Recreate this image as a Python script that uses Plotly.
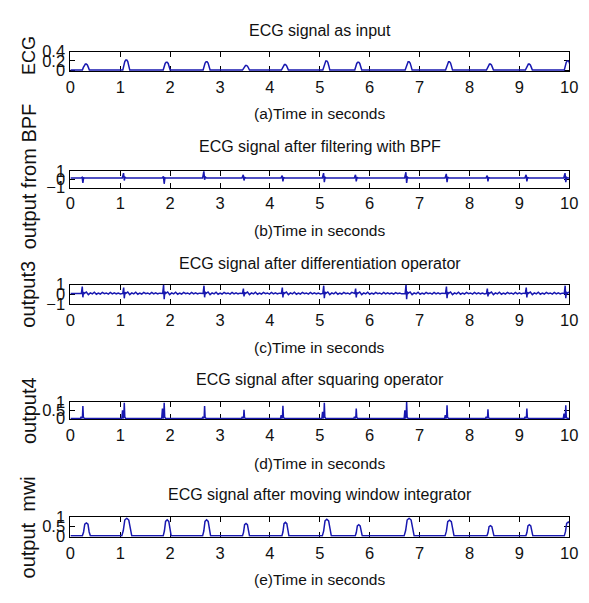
import plotly.graph_objects as go

W, H = 589, 603

# ---------------- data ----------------
x_ticks = [0, 1, 2, 3, 4, 5, 6, 7, 8, 9, 10]

# (a) input ECG : beat times and hump heights
t_in = [0.31, 1.12, 1.93, 2.73, 3.52, 4.30, 5.13, 5.77, 6.78, 7.59, 8.41, 9.19, 9.97]
amp_in = [0.13, 0.22, 0.17, 0.18, 0.10, 0.12, 0.20, 0.17, 0.18, 0.18, 0.13, 0.13, 0.20]
in_offsets = [-0.07, -0.05, -0.03, -0.01, 0.01, 0.03, 0.05, 0.07]
in_shape = [0.0, 0.45, 0.85, 1.0, 1.0, 0.85, 0.45, 0.0]

# (b) band-pass filtered
t_bpf = [0.25, 1.08, 1.88, 2.69, 3.48, 4.26, 5.09, 5.73, 6.74, 7.55, 8.37, 9.15, 9.93]
bpf_base = 0.15
bpf_up = [0.1, 0.6, 0.2, 0.8, 0.4, 0.3, 0.6, 0.4, 0.7, 0.5, 0.3, 0.4, 0.6]
bpf_down = [0.6, 0.3, 0.7, 0.2, 0.3, 0.4, 0.5, 0.4, 0.6, 0.5, 0.4, 0.4, 0.5]
bpf_offsets = [-0.04, -0.015, 0.0, 0.015, 0.04]

# (c) differentiated
t_diff = [0.25, 1.08, 1.88, 2.69, 3.48, 4.26, 5.09, 5.73, 6.74, 7.55, 8.37, 9.15, 9.93]
diff_base = 0.08
diff_up = [0.7, 0.6, 0.9, 0.8, 0.5, 0.6, 0.8, 0.5, 0.9, 0.7, 0.5, 0.6, 0.8]
diff_down = [0.4, 0.5, 0.6, 0.4, 0.3, 0.4, 0.5, 0.4, 0.6, 0.5, 0.3, 0.4, 0.5]
diff_offsets = [-0.03, -0.012, 0.0, 0.012, 0.03]
ripple_offsets = [0.07, 0.11, 0.15, 0.19, 0.23, 0.27, 0.31, 0.35, 0.39, 0.43,
                  0.47, 0.51, 0.55, 0.59, 0.63, 0.67, 0.71, 0.75, 0.79, 0.83, 0.87, 0.91]
ripple_vals = [0.15, -0.12, 0.06, -0.05, 0.12, -0.08, 0.04, -0.06, 0.1, -0.03, 0.05,
               -0.07, 0.11, -0.05, 0.07, -0.04, 0.03, -0.06, 0.08, -0.03, 0.05, -0.04]

# (d) squared
t_sq = [0.25, 1.08, 1.88, 2.69, 3.48, 4.26, 5.09, 5.73, 6.74, 7.55, 8.37, 9.15, 9.93]
sq_amp = [0.75, 0.95, 0.95, 0.75, 0.53, 0.77, 0.95, 0.6, 1.0, 0.8, 0.55, 0.6, 0.8]
sq_amp2 = [0.1, 0.5, 0.6, 0.1, 0.1, 0.2, 0.4, 0.1, 0.5, 0.2, 0.1, 0.1, 0.3]
sq_offsets = [-0.05, -0.035, -0.02, -0.008, 0.0, 0.01, 0.03]
sq_main = [0.0, 0.0, 0.0, 0.15, 1.0, 0.1, 0.0]
sq_second = [0.0, 1.0, 0.0, 0.0, 0.0, 0.0, 0.0]

# (e) moving window integrator
t_mwi = [0.32, 1.13, 1.94, 2.73, 3.52, 4.31, 5.14, 5.78, 6.79, 7.60, 8.42, 9.20, 9.98]
mwi_amp = [0.7, 0.95, 0.87, 0.87, 0.67, 0.73, 0.9, 0.6, 0.95, 0.85, 0.55, 0.6, 0.75]
mwi_width = [0.16, 0.2, 0.16, 0.16, 0.14, 0.14, 0.18, 0.14, 0.2, 0.18, 0.14, 0.14, 0.16]
mwi_frac = [-0.5, -0.35, -0.2, 0.0, 0.2, 0.35, 0.5]
mwi_shape = [0.0, 0.3, 0.9, 1.0, 0.9, 0.3, 0.0]

titles = ["ECG signal as input",
          "ECG signal after filtering with BPF",
          "ECG signal after differentiation operator",
          "ECG signal after squaring operator",
          "ECG signal after moving window integrator"]
xlabels = ["(a)Time in seconds", "(b)Time in seconds", "(c)Time in seconds",
           "(d)Time in seconds", "(e)Time in seconds"]
ylabels = ["ECG", "output from BPF", "output3", "output4", "output  mwi"]
y_ticks = [[0, 0.2, 0.4], [-1, 0, 1], [-1, 0, 1], [0, 0.5, 1], [0, 0.5, 1]]
y_ranges = [[-0.022, 0.4], [-1, 1], [-1, 1], [-0.05, 1], [-0.05, 1]]

# ---------------- build traces ----------------
def build(times, per_beat, base, t_end=10.0):
    xs, ys = [0.0], [base]
    for i, tb in enumerate(times):
        for o, v in per_beat(i):
            xs.append(tb + o)
            ys.append(base + v)
    xs.append(t_end + 0.2)
    ys.append(base)
    return xs, ys

sig = []
sig.append(build(t_in, lambda i: [(o, amp_in[i] * s) for o, s in zip(in_offsets, in_shape)], 0.0))
sig.append(build(t_bpf, lambda i: list(zip(bpf_offsets,
        [0.0, bpf_up[i], -bpf_down[i], 0.15 * bpf_up[i], 0.0])), bpf_base))

def diff_beat(i):
    pts = list(zip(diff_offsets, [0.0, diff_up[i], -diff_down[i], 0.2 * diff_up[i], 0.0]))
    gap = (t_diff[i + 1] - t_diff[i]) if i + 1 < len(t_diff) else 1.0
    for o, v in zip(ripple_offsets, ripple_vals):
        if o < gap - 0.06:
            pts.append((o, v))
    return pts
sig.append(build(t_diff, diff_beat, diff_base))
sig.append(build(t_sq, lambda i: [(o, sq_amp[i] * a + sq_amp2[i] * b)
        for o, a, b in zip(sq_offsets, sq_main, sq_second)], 0.0))
sig.append(build(t_mwi, lambda i: [(f * mwi_width[i], mwi_amp[i] * s)
        for f, s in zip(mwi_frac, mwi_shape)], 0.0))

# layout positions in pixels
boxes = [(44, 64), (167, 184), (284, 304), (405, 423), (524, 544)]
title_y = [22, 142, 262, 382, 500]
xlabel_y = [108, 228, 349, 468, 588]
ylabel_y = [48, 172, 294, 414, 534]
ylabel_size = [18, 20, 20, 20, 20]
x_left, x_right = 67, 578

def px(p):
    return p / W
def py(p):
    return 1 - p / H

font_h = "Liberation Sans, Arial, sans-serif"
blue = "#1818b0"
txt = "#111111"

fig = go.Figure()
layout = dict(width=W, height=H, margin=dict(l=0, r=0, t=0, b=0),
              paper_bgcolor="white", plot_bgcolor="white", showlegend=False)
annotations = []
for k in range(5):
    n = "" if k == 0 else str(k + 1)
    xs, ys = sig[k]
    fig.add_trace(go.Scatter(x=xs, y=ys, mode="lines", line=dict(color=blue, width=1.5),
                             xaxis="x" + n, yaxis="y" + n, hoverinfo="skip"))
    top, bot = boxes[k]
    layout["xaxis" + n] = dict(domain=[px(x_left), px(x_right)], anchor="y" + n,
                               range=[0, 10], tickvals=x_ticks, ticks="inside", ticklen=5,
                               tickcolor="black", showline=True, mirror="ticks",
                               linecolor="black", linewidth=1, showgrid=False, zeroline=False,
                               layer="below traces", ticklabelstandoff=1,
                               tickfont=dict(family=font_h, size=16.5, color=txt))
    layout["yaxis" + n] = dict(domain=[py(bot), py(top)], anchor="x" + n,
                               range=y_ranges[k], tickvals=y_ticks[k], ticks="inside", ticklen=5,
                               tickcolor="black", showline=True, mirror="ticks",
                               linecolor="black", linewidth=1, showgrid=False, zeroline=False,
                               layer="below traces", ticklabelstandoff=1,
                               tickfont=dict(family=font_h, size=16.5, color=txt))
    cx = px((x_left + x_right) / 2)
    annotations.append(dict(text=titles[k], x=cx, y=py(title_y[k]), xref="paper", yref="paper",
                            xanchor="center", yanchor="middle", showarrow=False,
                            font=dict(family=font_h, size=16, color=txt)))
    annotations.append(dict(text=xlabels[k], x=cx, y=py(xlabel_y[k]), xref="paper", yref="paper",
                            xanchor="center", yanchor="middle", showarrow=False,
                            font=dict(family=font_h, size=15.5, color=txt)))
    annotations.append(dict(text=ylabels[k], x=px(24), y=py(ylabel_y[k]),
                            xref="paper", yref="paper", xanchor="center", yanchor="middle",
                            textangle=-90, showarrow=False,
                            font=dict(family=font_h, size=ylabel_size[k], color=txt)))
layout["annotations"] = annotations
fig.update_layout(**layout)
fig.write_html("out.html")
